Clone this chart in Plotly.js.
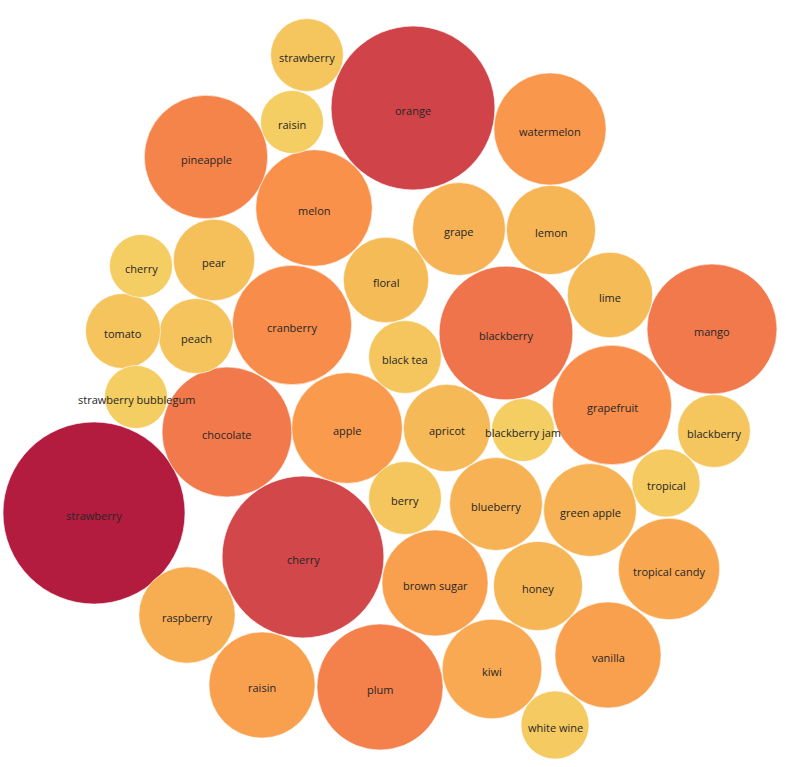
<!DOCTYPE html>
<html>
<head>
<meta charset="utf-8">
<script src="https://cdn.plot.ly/plotly-3.0.1.min.js"></script>
<style>html,body{margin:0;padding:0;background:#fff;}#chart{width:786px;height:767px;}</style>
</head>
<body>
<div id="chart"></div>
<script>
// Aroma / flavour names
const labels = ["strawberry","orange","cherry","blackberry","mango","chocolate","plum","pineapple","cranberry","grapefruit",
  "melon","watermelon","apple","brown sugar","vanilla","raisin","tropical candy","kiwi","raspberry","blueberry",
  "green apple","grape","lemon","honey","apricot","floral","lime","pear","peach","tomato",
  "black tea","blackberry","strawberry","berry","tropical","white wine","cherry","raisin","strawberry bubblegum","blackberry jam"];
// Counts (bubble area)
const counts = [100,81,79,54,51,51,48,46,43,43,
  41,38,37,34,34,34,31,30,28,26,
  26,26,24,24,23,22,22,20,17,17,
  16,16,16,16,14,14,12,12,12,12];
// Packed-layout centres (pixel space of the view)
const packX = [94,413,303,506,712,227,380,206,292,612,
  314,550,347,435,608,262,669,492,187,496,
  590,459,551,538,447,386,610,214,196,123,
  405,714,307,405,666,555,141,292,136,523];
const packY = [513,108,557,333,329,432,687,157,325,405,
  208,129,428,583,655,685,569,669,615,504,
  510,229,230,586,428,280,295,260,336,331,
  357,431,55,498,483,725,266,122,397,430];

const radiusPerSqrt = 9.1;
const colorStops = [[12,"#F4CD63"],[20,"#F5BF59"],[26,"#F6B254"],[34,"#F9A04E"],[41,"#F9914B"],[46,"#F5844B"],[54,"#EF734B"],[80,"#D0454A"],[100,"#B41C3F"]];

function hex2rgb(h){return [parseInt(h.slice(1,3),16),parseInt(h.slice(3,5),16),parseInt(h.slice(5,7),16)];}
function colorFor(v){
  if(v<=colorStops[0][0]) return colorStops[0][1];
  for(let i=1;i<colorStops.length;i++){
    if(v<=colorStops[i][0]){
      const a=colorStops[i-1], b=colorStops[i];
      const t=(v-a[0])/(b[0]-a[0]);
      const ca=hex2rgb(a[1]), cb=hex2rgb(b[1]);
      const c=ca.map((x,k)=>Math.round(x+(cb[k]-x)*t));
      return `rgb(${c[0]},${c[1]},${c[2]})`;
    }
  }
  return colorStops[colorStops.length-1][1];
}

const shapes = counts.map((v,i)=>{
  const r = radiusPerSqrt*Math.sqrt(v);
  return {type:"circle", xref:"x", yref:"y",
    x0:packX[i]-r, x1:packX[i]+r, y0:packY[i]-r, y1:packY[i]+r,
    fillcolor:colorFor(v), line:{color:"rgba(255,255,255,0.6)", width:1}, layer:"below"};
});

const annotations = labels.map((l,i)=>({
  x:packX[i], y:packY[i], xref:"x", yref:"y", text:l, showarrow:false,
  yshift:-2, xanchor:"center", yanchor:"middle",
  font:{family:"Open Sans, sans-serif", size:11, color:"#262626"}
}));

const trace = {
  type:"scatter", mode:"markers", x:packX, y:packY,
  marker:{size:1, opacity:0},
  hoverinfo:"text", hovertext:labels.map((l,i)=>l+": "+counts[i])
};

const layout = {
  width:786, height:767,
  margin:{l:0,r:0,t:0,b:0},
  paper_bgcolor:"#ffffff", plot_bgcolor:"#ffffff",
  xaxis:{range:[0,786], visible:false, fixedrange:true},
  yaxis:{range:[767,0], visible:false, fixedrange:true},
  shapes:shapes, annotations:annotations, showlegend:false
};
Plotly.newPlot("chart",[trace],layout,{displayModeBar:false, staticPlot:true});
</script>
</body>
</html>
